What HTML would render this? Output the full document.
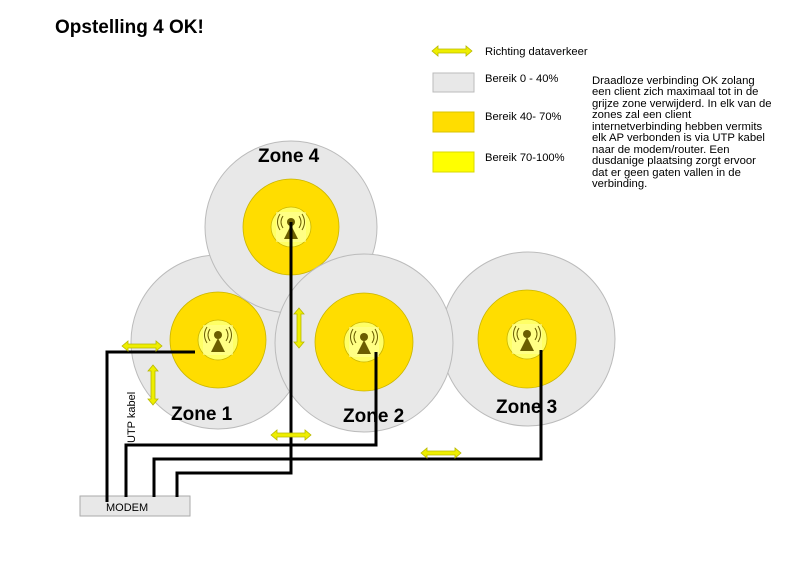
<!DOCTYPE html>
<html><head><meta charset="utf-8"><style>
html,body{margin:0;padding:0;background:#fff;}
svg{display:block;font-family:"Liberation Sans",Arial,sans-serif;}
</style></head><body>
<svg width="800" height="566" viewBox="0 0 800 566" xmlns="http://www.w3.org/2000/svg">
<defs>
<g id="ha"><path d="M-20,0 L-14,-5 L-14,-2 L14,-2 L14,-5 L20,0 L14,5 L14,2 L-14,2 L-14,5 Z" fill="#eeee00" stroke="#b8b800" stroke-width="0.8"/></g>
<g id="ap">
<circle r="20" fill="#ffff66" stroke="#c8b400" stroke-width="0.8"/>
<rect x="-15" y="-15" width="30" height="30" fill="#ffff99" opacity="0.6"/>
<circle cx="0" cy="-5" r="4" fill="#6b5e00"/>
<path d="M-8,-11 Q-12,-5 -8,1 M8,-11 Q12,-5 8,1 M-11,-13 Q-16,-5 -11,3 M11,-13 Q16,-5 11,3" stroke="#6b5e00" stroke-width="1" fill="none"/>
<path d="M0,-2 L-7,12 L7,12 Z" fill="#6b5e00"/>
</g>
</defs>
<text x="55" y="33" font-size="19" font-weight="bold">Opstelling 4 OK!</text>

<circle cx="218" cy="342" r="87" fill="#e8e8e8" stroke="#bbb" stroke-width="1"/>
<circle cx="218" cy="340" r="48" fill="#ffdd00" stroke="#c8b400" stroke-width="0.8"/>
<use href="#ap" x="218" y="340"/>
<circle cx="291" cy="227" r="86" fill="#e8e8e8" stroke="#bbb" stroke-width="1"/>
<circle cx="291" cy="227" r="48" fill="#ffdd00" stroke="#c8b400" stroke-width="0.8"/>
<use href="#ap" x="291" y="227"/>
<circle cx="528" cy="339" r="87" fill="#e8e8e8" stroke="#bbb" stroke-width="1"/>
<circle cx="527" cy="339" r="49" fill="#ffdd00" stroke="#c8b400" stroke-width="0.8"/>
<use href="#ap" x="527" y="339"/>
<circle cx="364" cy="343" r="89" fill="#e8e8e8" stroke="#bbb" stroke-width="1"/>
<circle cx="364" cy="342" r="49" fill="#ffdd00" stroke="#c8b400" stroke-width="0.8"/>
<use href="#ap" x="364" y="342"/>

<text x="258" y="162" font-size="19" font-weight="bold">Zone 4</text>
<text x="171" y="420" font-size="19" font-weight="bold">Zone 1</text>
<text x="343" y="422" font-size="19" font-weight="bold">Zone 2</text>
<text x="496" y="413" font-size="19" font-weight="bold">Zone 3</text>

<rect x="80" y="496" width="110" height="20" fill="#e8e8e8" stroke="#aaa" stroke-width="1"/>
<text x="106" y="511" font-size="11">MODEM</text>

<g stroke="#000" stroke-width="3" fill="none" stroke-linejoin="miter">
<path d="M195,352 L107,352 L107,502"/>
<path d="M376,352 L376,445 L126,445 L126,497"/>
<path d="M541,350 L541,459 L154,459 L154,497"/>
<path d="M291,222 L291,473 L177,473 L177,497"/>
</g>
<text transform="translate(135,443) rotate(-90)" font-size="11">UTP kabel</text>

<use href="#ha" transform="translate(142,346)"/>
<use href="#ha" transform="translate(153,385) rotate(90)"/>
<use href="#ha" transform="translate(299,328) rotate(90)"/>
<use href="#ha" transform="translate(291,435)"/>
<use href="#ha" transform="translate(441,453)"/>
<use href="#ha" transform="translate(452,51)"/>

<text x="485" y="55" font-size="11.2">Richting dataverkeer</text>
<rect x="433" y="73" width="41" height="19" fill="#e8e8e8" stroke="#bbb" stroke-width="1"/>
<text x="485" y="82" font-size="11.2">Bereik 0 - 40%</text>
<rect x="433" y="112" width="41" height="20" fill="#ffdd00" stroke="#d8c400" stroke-width="1"/>
<text x="485" y="120" font-size="11.2">Bereik 40- 70%</text>
<rect x="433" y="152" width="41" height="20" fill="#ffff00" stroke="#d8d800" stroke-width="1"/>
<text x="485" y="161" font-size="11.2">Bereik 70-100%</text>
<g font-size="11.3">
<text x="592" y="84">Draadloze verbinding OK zolang</text>
<text x="592" y="95">een client zich maximaal tot in de</text>
<text x="592" y="107">grijze zone verwijderd. In elk van de</text>
<text x="592" y="118">zones zal een client</text>
<text x="592" y="130">internetverbinding hebben vermits</text>
<text x="592" y="141">elk AP verbonden is via UTP kabel</text>
<text x="592" y="153">naar de modem/router. Een</text>
<text x="592" y="164">dusdanige plaatsing zorgt ervoor</text>
<text x="592" y="176">dat er geen gaten vallen in de</text>
<text x="592" y="187">verbinding.</text>
</g>
</svg>
</body></html>
